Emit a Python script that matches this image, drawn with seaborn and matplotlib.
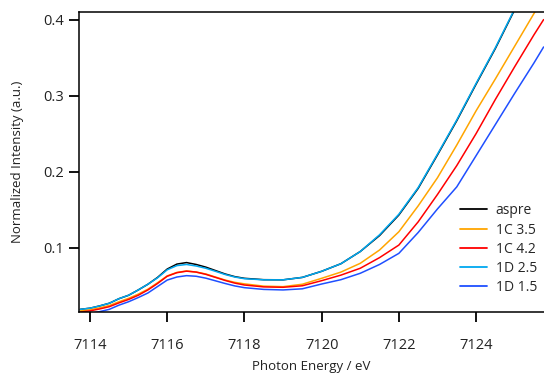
import numpy as np
import pandas as pd
import matplotlib
matplotlib.use("Agg")
import matplotlib.pyplot as plt
import seaborn as sns

# Photon energy grid (eV)
energy = [7113.75, 7114.0, 7114.25, 7114.5, 7114.75, 7115.0, 7115.25, 7115.5,
          7115.75, 7116.0, 7116.25, 7116.5, 7116.75, 7117.0, 7117.25, 7117.5,
          7117.75, 7118.0, 7118.5, 7119.0, 7119.5, 7120.0, 7120.5, 7121.0,
          7121.5, 7122.0, 7122.5, 7123.0, 7123.5, 7124.0, 7124.5, 7125.0,
          7125.5, 7125.75]

aspre = [0.019, 0.0205, 0.0235, 0.027, 0.033, 0.0375, 0.0445, 0.052,
         0.061, 0.072, 0.0785, 0.0805, 0.078, 0.0745, 0.070, 0.0655,
         0.062, 0.0598, 0.058, 0.0578, 0.061, 0.069, 0.079, 0.095,
         0.116, 0.143, 0.178, 0.222, 0.267, 0.315, 0.362, 0.413,
         0.46, 0.485]
c1_35 = [0.017, 0.0185, 0.021, 0.024, 0.029, 0.0335, 0.039, 0.0455,
         0.054, 0.063, 0.0675, 0.0695, 0.068, 0.0655, 0.0615, 0.0575,
         0.0545, 0.0525, 0.0495, 0.0488, 0.052, 0.0598, 0.068, 0.0795,
         0.097, 0.121, 0.155, 0.192, 0.235, 0.280, 0.322, 0.365,
         0.408, 0.43]
c1_42 = [0.0155, 0.017, 0.0195, 0.0225, 0.0275, 0.032, 0.0375, 0.0445,
         0.053, 0.0625, 0.0672, 0.0692, 0.068, 0.065, 0.061, 0.057,
         0.0535, 0.051, 0.0485, 0.048, 0.050, 0.0567, 0.064, 0.073,
         0.087, 0.1035, 0.134, 0.17, 0.208, 0.25, 0.295, 0.338,
         0.38, 0.40]
d1_25 = [0.019, 0.0205, 0.0235, 0.027, 0.033, 0.0375, 0.0445, 0.052,
         0.0605, 0.071, 0.0765, 0.078, 0.076, 0.073, 0.069, 0.0648,
         0.0615, 0.0593, 0.0578, 0.0578, 0.061, 0.069, 0.079, 0.095,
         0.117, 0.144, 0.179, 0.223, 0.268, 0.316, 0.363, 0.414,
         0.461, 0.486]
d1_15 = [0.012, 0.0135, 0.016, 0.019, 0.0245, 0.029, 0.0345, 0.0405,
         0.049, 0.0575, 0.0615, 0.0633, 0.0625, 0.060, 0.0565, 0.053,
         0.0498, 0.0475, 0.0452, 0.0445, 0.046, 0.0523, 0.058, 0.0664,
         0.078, 0.0926, 0.12, 0.151, 0.180, 0.221, 0.262, 0.303,
         0.343, 0.364]

labels = ["aspre", "1C 3.5", "1C 4.2", "1D 2.5", "1D 1.5"]
colors = ["#000000", "#FFA500", "#FF0000", "#00A8F0", "#1F4FFF"]
xticks = [7114, 7116, 7118, 7120, 7122, 7124]
yticks = [0.1, 0.2, 0.3, 0.4]

df = pd.concat([
    pd.DataFrame({"energy": energy, "intensity": vals, "sample": lab})
    for lab, vals in zip(labels, [aspre, c1_35, c1_42, d1_25, d1_15])
])

sns.set_style("ticks")
plt.rcParams["font.family"] = ["Open Sans", "DejaVu Sans"]

fig = plt.figure(figsize=(5.44, 3.76), dpi=100)
ax = fig.add_axes([79 / 544, 1 - 312 / 376, 1 - 79 / 544, 300 / 376])

sns.lineplot(data=df, x="energy", y="intensity", hue="sample",
             hue_order=labels, palette=dict(zip(labels, colors)),
             linewidth=1.1, ax=ax, sort=True)

ax.set_xlim(7113.715, 7125.76)
ax.set_ylim(0.0155, 0.41)
ax.set_xticks(xticks)
ax.set_yticks(yticks)
ax.set_xticklabels([str(v) for v in xticks])
ax.set_yticklabels([f"{v:.1f}" for v in yticks])

for side in ["left", "bottom", "top"]:
    ax.spines[side].set_visible(True)
    ax.spines[side].set_color("black")
    ax.spines[side].set_linewidth(1.1)
ax.spines["right"].set_visible(False)

# outward ticks, ~10 px long
ax.tick_params(axis="both", which="major", direction="out", length=7.5,
               width=1.3, color="black", labelsize=10.5,
               labelcolor="#222222", bottom=True, left=True,
               top=False, right=False)
ax.tick_params(axis="x", pad=11)
ax.tick_params(axis="y", pad=3)
ax.minorticks_off()

ax.set_xlabel("Photon Energy / eV", fontsize=9.5, color="#222222", labelpad=5)
ax.set_ylabel("Normalized Intensity (a.u.)", fontsize=9.5, color="#222222", labelpad=14)

handles = ax.get_lines()[:len(labels)]
leg = ax.legend(handles, labels, loc="lower right",
                bbox_to_anchor=(537 / 544, 1 - 295 / 376),
                bbox_transform=fig.transFigure, frameon=False, fontsize=10,
                handlelength=2.0, handletextpad=0.6, labelspacing=0.3,
                borderpad=0, borderaxespad=0)
for line in leg.get_lines():
    line.set_linewidth(1.3)

fig.savefig("out.png", dpi=100)
